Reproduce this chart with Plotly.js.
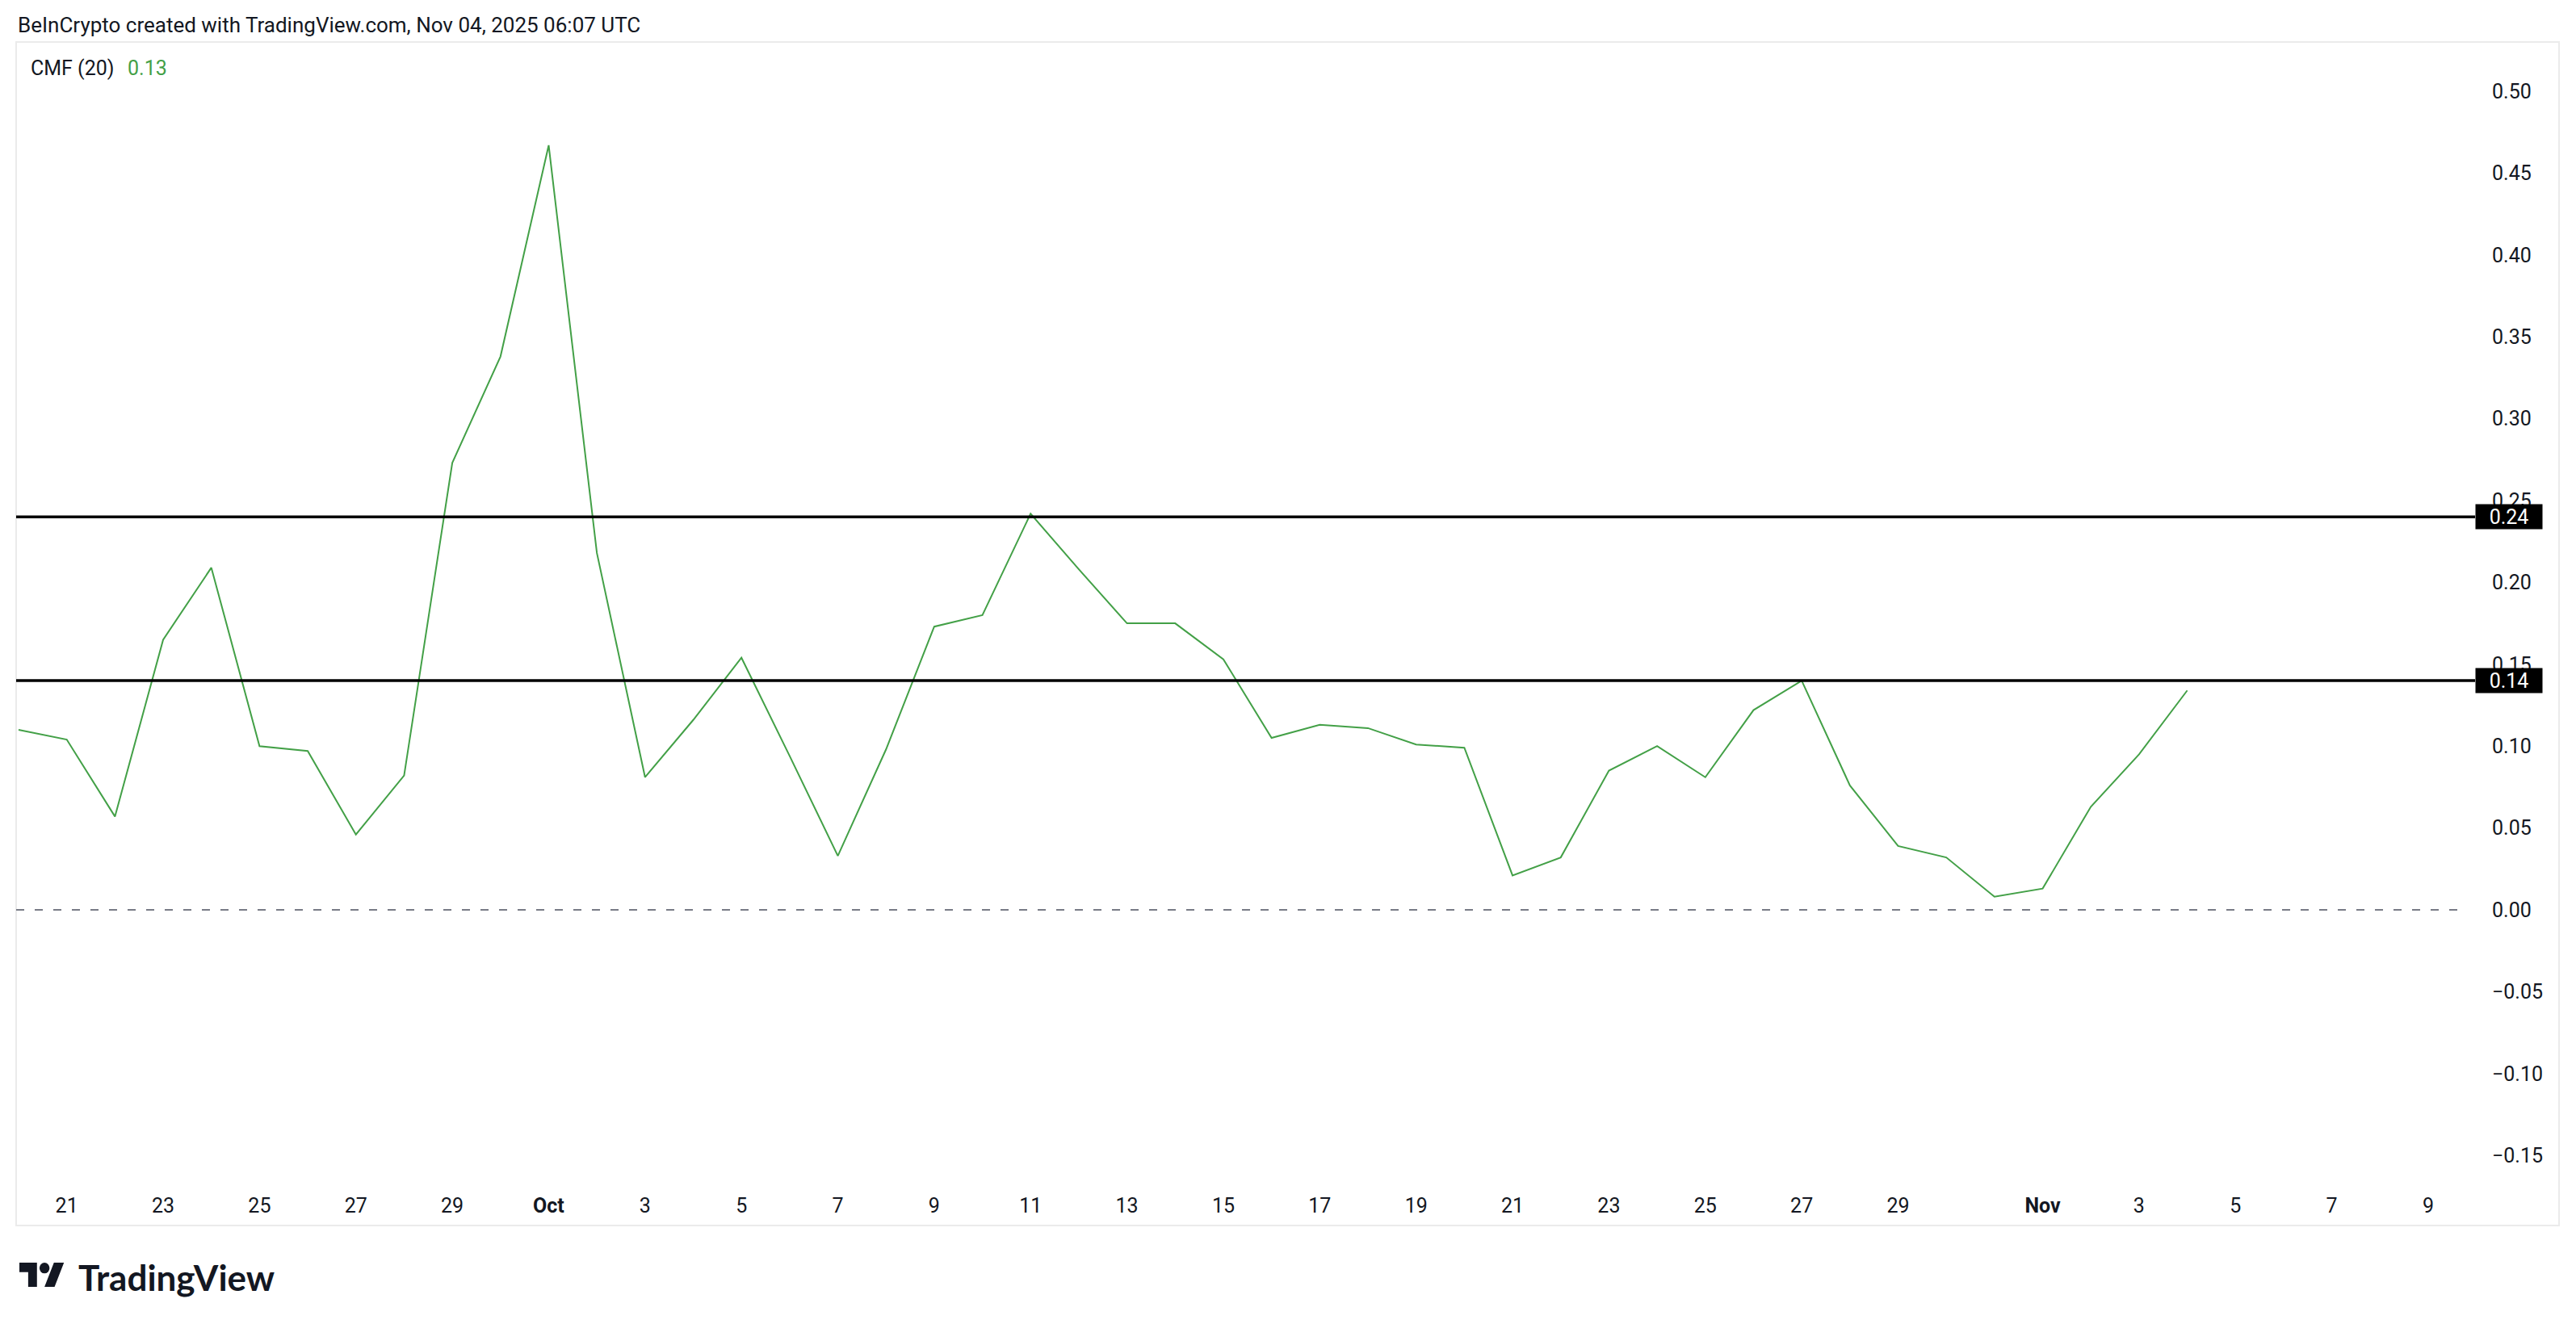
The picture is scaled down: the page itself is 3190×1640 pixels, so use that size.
<!DOCTYPE html>
<html>
<head>
<meta charset="utf-8">
<script src="https://cdn.plot.ly/plotly-3.0.1.min.js"></script>
<style>
  html, body { margin: 0; padding: 0; background: #ffffff; }
  #chart { width: 3190px; height: 1640px; }
</style>
</head>
<body>
<div id="chart"></div>
<script>
// ---- data ----
const dates = [
  "2025-09-20","2025-09-21","2025-09-22","2025-09-23","2025-09-24","2025-09-25",
  "2025-09-26","2025-09-27","2025-09-28","2025-09-29","2025-09-30",
  "2025-10-01","2025-10-02","2025-10-03","2025-10-04","2025-10-05","2025-10-06",
  "2025-10-07","2025-10-08","2025-10-09","2025-10-10","2025-10-11","2025-10-12",
  "2025-10-13","2025-10-14","2025-10-15","2025-10-16","2025-10-17","2025-10-18",
  "2025-10-19","2025-10-20","2025-10-21","2025-10-22","2025-10-23","2025-10-24",
  "2025-10-25","2025-10-26","2025-10-27","2025-10-28","2025-10-29","2025-10-30",
  "2025-10-31","2025-11-01","2025-11-02","2025-11-03","2025-11-04"
];
const cmf = [
  0.110, 0.104, 0.057, 0.165, 0.209, 0.100,
  0.097, 0.046, 0.082, 0.273, 0.338,
  0.467, 0.218, 0.081, 0.116, 0.154, 0.094,
  0.033, 0.098, 0.173, 0.180, 0.242, 0.208,
  0.175, 0.175, 0.153, 0.105, 0.113, 0.111,
  0.101, 0.099, 0.021, 0.032, 0.085, 0.100,
  0.081, 0.122, 0.140, 0.076, 0.039, 0.032,
  0.008, 0.013, 0.063, 0.095, 0.134
];
const levels = [0.24, 0.14];
const zeroLevel = 0;
const tickDates = [
  "2025-09-21","2025-09-23","2025-09-25","2025-09-27","2025-09-29",
  "2025-10-01","2025-10-03","2025-10-05","2025-10-07","2025-10-09","2025-10-11",
  "2025-10-13","2025-10-15","2025-10-17","2025-10-19","2025-10-21","2025-10-23",
  "2025-10-25","2025-10-27","2025-10-29",
  "2025-11-01","2025-11-03","2025-11-05","2025-11-07","2025-11-09"
];
const tickLabels = [
  "21","23","25","27","29",
  "<b>Oct</b>","3","5","7","9","11",
  "13","15","17","19","21","23",
  "25","27","29",
  "<b>Nov</b>","3","5","7","9"
];
const yTicks = [0.50,0.45,0.40,0.35,0.30,0.25,0.20,0.15,0.10,0.05,0.00,-0.05,-0.10,-0.15];
const headerText = "BeInCrypto created with TradingView.com, Nov 04, 2025 06:07 UTC";
const indicatorName = "CMF (20)";
const brandText = "TradingView";

// ---- styling ----
const GREEN = "#43a047";
const TEXT = "#131722";
const FONT = "Roboto, 'Liberation Sans', Arial, sans-serif";

const W = 3190, H = 1640;
const L = 20, R = 125, T = 52, B = 178;
const plotW = W - L - R, plotH = H - T - B;
const px2x = p => (p - L) / plotW;          // pixel -> paper x
const py2y = p => (H - B - p) / plotH;      // pixel -> paper y

const traces = [{
  type: "scatter",
  mode: "lines",
  x: dates,
  y: cmf,
  line: { color: GREEN, width: 2 },
  hoverinfo: "skip"
}];

const shapes = [
  // chart frame
  { type: "rect", xref: "paper", yref: "paper",
    x0: 0, x1: px2x(3169), y0: py2y(1518), y1: py2y(52),
    line: { color: "#ebebeb", width: 2 }, fillcolor: "rgba(0,0,0,0)", layer: "below" },
  // zero dashed line
  { type: "line", xref: "paper", yref: "y",
    x0: 0, x1: px2x(3053), y0: zeroLevel, y1: zeroLevel,
    line: { color: "#787b86", width: 2, dash: "10px,13px" } }
];
levels.forEach(v => shapes.push({
  type: "line", xref: "paper", yref: "y",
  x0: 0, x1: 1, y0: v, y1: v,
  line: { color: "#000000", width: 3.5 }
}));

const annotations = [
  { xref: "paper", yref: "paper", x: px2x(20), y: py2y(31),
    xanchor: "left", yanchor: "middle", showarrow: false,
    text: headerText, font: { family: FONT, size: 26, color: TEXT } },
  { xref: "paper", yref: "paper", x: px2x(36), y: py2y(85),
    xanchor: "left", yanchor: "middle", showarrow: false,
    text: indicatorName, font: { family: FONT, size: 25, color: TEXT } },
  { xref: "paper", yref: "paper", x: px2x(156), y: py2y(85),
    xanchor: "left", yanchor: "middle", showarrow: false,
    text: cmf[cmf.length - 1].toFixed(2), font: { family: FONT, size: 25, color: GREEN } },
  { xref: "paper", yref: "paper", x: px2x(95), y: py2y(1582),
    xanchor: "left", yanchor: "middle", showarrow: false,
    text: "<b>" + brandText + "</b>", font: { family: "Lato, Roboto, sans-serif", size: 44, color: TEXT } }
];
levels.forEach(v => annotations.push({
  xref: "paper", yref: "y", x: 1, y: v, xanchor: "left", yanchor: "middle",
  showarrow: false, text: v.toFixed(2), bgcolor: "#000000",
  width: 76, height: 24, borderpad: 3, align: "center",
  font: { family: FONT, size: 25, color: "#ffffff" }
}));

const logoSvg = '<svg xmlns="http://www.w3.org/2000/svg" viewBox="0 4 36 18">' +
  '<path fill="#131722" d="M14 22H7V11H0V4h14v18zM28 22h-8l7.5-18h8L28 22z"/>' +
  '<circle fill="#131722" cx="20" cy="8" r="4"/></svg>';

const layout = {
  width: W, height: H,
  margin: { l: L, r: R, t: T, b: B, pad: 0 },
  paper_bgcolor: "#ffffff",
  plot_bgcolor: "#ffffff",
  showlegend: false,
  xaxis: {
    type: "date",
    range: ["2025-09-19 22:48", "2025-11-09 23:20"],
    tickmode: "array", tickvals: tickDates, ticktext: tickLabels,
    showgrid: false, zeroline: false, showline: false, ticks: "",
    ticklabelstandoff: 14,
    tickfont: { family: FONT, size: 25, color: TEXT }
  },
  yaxis: {
    side: "right",
    range: [-0.1652, 0.5301],
    tickmode: "array", tickvals: yTicks,
    ticktext: yTicks.map(v => (v < 0 ? "\u2212" : "") + Math.abs(v).toFixed(2)),
    showgrid: false, zeroline: false, showline: false, ticks: "",
    ticklabelstandoff: 20,
    tickfont: { family: FONT, size: 25, color: TEXT }
  },
  shapes: shapes,
  annotations: annotations,
  images: [{
    source: "data:image/svg+xml;base64," + btoa(logoSvg),
    xref: "paper", yref: "paper",
    x: px2x(24), y: py2y(1564),
    sizex: 56 / plotW, sizey: 30 / plotH,
    xanchor: "left", yanchor: "top", sizing: "stretch", layer: "above"
  }]
};

Plotly.newPlot("chart", traces, layout, { displayModeBar: false, staticPlot: true });
</script>
</body>
</html>
